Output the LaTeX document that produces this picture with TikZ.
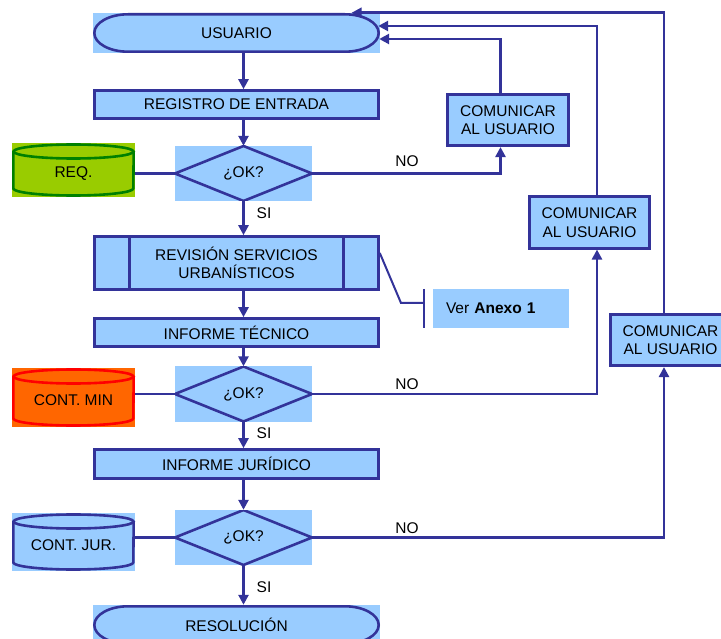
\documentclass[tikz,border=0pt]{standalone}
\usepackage{fontspec}
\setmainfont{Liberation Sans}
\usetikzlibrary{arrows.meta,positioning,shapes.geometric,calc}
\usepackage{xcolor}
\definecolor{boxblue}{HTML}{99CCFF}
\definecolor{lineblue}{HTML}{333399}
\definecolor{reqgreen}{HTML}{99CC00}
\definecolor{reqline}{HTML}{008000}
\definecolor{minorange}{HTML}{FF6600}
\definecolor{minred}{HTML}{FF0000}

\begin{document}
\begin{tikzpicture}[
    x=1pt, y=-1pt,
    font=\fontsize{15.5}{18.5}\selectfont,
    block/.style={rectangle, draw=lineblue, fill=boxblue, line width=2.6pt, minimum width=284pt, minimum height=28pt, inner sep=0pt, align=center},
    combox/.style={rectangle, draw=lineblue, fill=boxblue, line width=2.6pt, minimum width=120.5pt, minimum height=51.5pt, inner sep=0pt, align=center},
    process/.style={block, minimum height=53pt, path picture={
        \draw[lineblue, line width=2.6pt] ([xshift=35pt]path picture bounding box.north west) -- ([xshift=35pt]path picture bounding box.south west);
        \draw[lineblue, line width=2.6pt] ([xshift=-35pt]path picture bounding box.north east) -- ([xshift=-35pt]path picture bounding box.south east);}},
    terminal/.style={rectangle, fill=boxblue, minimum width=287pt, minimum height=40pt, inner sep=0pt, path picture={
        \draw[lineblue, line width=2.6pt]
            ([xshift=35pt, yshift=-1.3pt]path picture bounding box.north west)
            -- ([xshift=-35pt, yshift=-1.3pt]path picture bounding box.north east)
            arc[start angle=90, end angle=-90, x radius=33.7pt, y radius=18.7pt]
            -- ([xshift=35pt, yshift=1.3pt]path picture bounding box.south west)
            arc[start angle=270, end angle=90, x radius=33.7pt, y radius=18.7pt] -- cycle;}},
    decision/.style={rectangle, fill=boxblue, minimum width=137pt, minimum height=55pt, inner sep=0pt, path picture={
        \draw[lineblue, line width=2.6pt, line join=round]
            (path picture bounding box.north) -- (path picture bounding box.east)
            -- (path picture bounding box.south) -- (path picture bounding box.west) -- cycle;}},
    store/.style 2 args={rectangle, fill=#1, minimum width=123pt, minimum height=54pt, inner sep=0pt, text height=16pt, text depth=0pt, path picture={
        \draw[#2, line width=2.6pt] ([yshift=-8.5pt]path picture bounding box.north) ellipse[x radius=60pt, y radius=7pt];
        \draw[#2, line width=2.6pt]
            ([xshift=1.3pt, yshift=-8.5pt]path picture bounding box.north west)
            -- ([xshift=1.3pt, yshift=8.5pt]path picture bounding box.south west)
            arc[start angle=180, end angle=360, x radius=60pt, y radius=7pt]
            -- ([xshift=-1.3pt, yshift=-8.5pt]path picture bounding box.north east);}},
    arrow/.style={-{Triangle[length=10pt, width=10pt]}, draw=lineblue, line width=2.6pt},
    link/.style={draw=lineblue, line width=2.6pt},
    note/.style={draw=lineblue, line width=2pt},
    lbl/.style={inner sep=0pt}
]
    \path[use as bounding box, clip] (0,0) rectangle (721,639);

    % main column
    \node[terminal] (usuario) at (236.5,33) {USUARIO};
    \node[block] (registro) at (236.5,104.5) {REGISTRO DE ENTRADA};
    \node[decision] (ok1) at (243.5,173.5) {¿OK?};
    \node[process] (revision) at (236.5,263) {REVISIÓN SERVICIOS\\URBANÍSTICOS};
    \node[block] (tecnico) at (236.5,332.5) {INFORME TÉCNICO};
    \node[decision] (ok2) at (243.5,394) {¿OK?};
    \node[block, minimum height=29pt] (juridico) at (236.5,464) {INFORME JURÍDICO};
    \node[decision] (ok3) at (243.5,537.5) {¿OK?};
    \node[terminal] (resolucion) at (236.5,625) {RESOLUCIÓN};

    % data stores
    \node[store={reqgreen}{reqline}] (req) at (73.5,170) {REQ.};
    \node[store={minorange}{minred}, minimum height=59pt] (contmin) at (73.5,397.5) {CONT. MIN};
    \node[store={boxblue}{lineblue}, minimum height=58pt] (contjur) at (73.5,542) {CONT. JUR.};

    % feedback boxes
    \node[combox] (com1) at (508,120) {COMUNICAR\\AL USUARIO};
    \node[combox] (com2) at (589.5,222.5) {COMUNICAR\\AL USUARIO};
    \node[combox] (com3) at (670.5,340) {COMUNICAR\\AL USUARIO};

    % annex reference
    \node[rectangle, fill=boxblue, minimum width=136pt, minimum height=39pt, text width=110pt, inner xsep=13pt, align=left] (anexo) at (501,308.5) {Ver \textbf{Anexo 1}};
    \coordinate (bend) at (401,303);

    % labels
    \node[lbl] (no1) at (407,161) {NO};
    \node[lbl] (no2) at (407,384) {NO};
    \node[lbl] (no3) at (407,528) {NO};
    \node[lbl] (si1) at (264,213) {SI};
    \node[lbl] (si2) at (264,433) {SI};
    \node[lbl] (si3) at (264,587) {SI};

    % main flow
    \draw[arrow] (usuario.south -| ok1.north) -- (registro.north -| ok1.north);
    \draw[arrow] (registro.south -| ok1.north) -- (ok1.north);
    \draw[arrow] (ok1.south) -- (revision.north -| ok1.south);
    \draw[arrow] (revision.south -| ok1.south) -- (tecnico.north -| ok1.south);
    \draw[arrow] (tecnico.south -| ok2.north) -- (ok2.north);
    \draw[arrow] (ok2.south) -- (juridico.north -| ok2.south);
    \draw[arrow] (juridico.south -| ok3.north) -- (ok3.north);
    \draw[arrow] (ok3.south) -- (resolucion.north -| ok3.south);

    % stores
    \draw[link] (req.east |- ok1.west) -- (ok1.west);
    \draw[link] (contmin.east |- ok2.west) -- (ok2.west);
    \draw[link] (contjur.east |- ok3.west) -- (ok3.west);

    % NO branches
    \draw[arrow] (ok1.east) -| ([xshift=-7.5pt]com1.south);
    \draw[arrow] (ok2.east) -| ([xshift=7.5pt]com2.south);
    \draw[arrow] (ok3.east) -| ([xshift=-6.5pt]com3.south);

    % back to the user
    \draw[arrow] ([xshift=-7.5pt]com1.north) |- ([xshift=-1pt, yshift=-6pt]usuario.east);
    \draw[arrow] ([xshift=7.5pt]com2.north) |- ([xshift=-2pt, yshift=7pt]usuario.east);
    \draw[arrow] ([xshift=-6.5pt]com3.north) |- ([xshift=115pt]usuario.north);

    % annex bracket
    \draw[note] ([yshift=10pt]revision.east) -- (bend) -- ([xshift=-9pt, yshift=5.5pt]anexo.west);
    \draw[note] ([xshift=-9pt]anexo.north west) -- ([xshift=-9pt]anexo.south west);
\end{tikzpicture}
\end{document}
